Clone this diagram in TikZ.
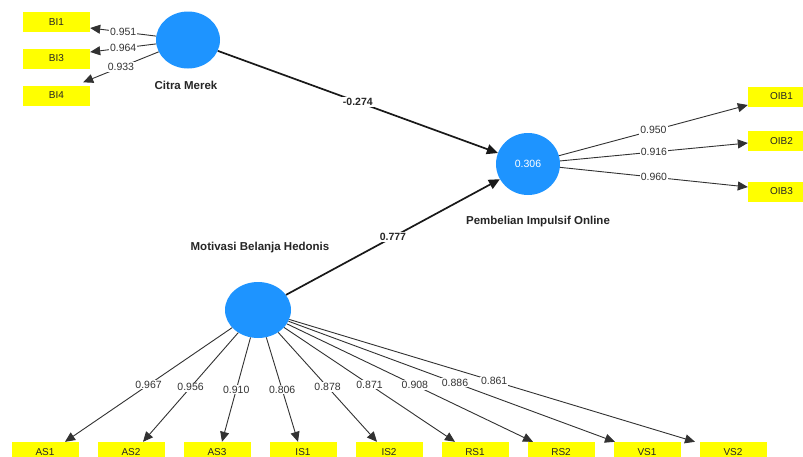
\documentclass[tikz,border=0pt]{standalone}
\usepackage{fontspec}
\setmainfont{Liberation Sans}
\usetikzlibrary{shapes.geometric,arrows.meta}
\definecolor{lvblue}{RGB}{30,148,255}
\definecolor{indyellow}{RGB}{255,255,0}
\definecolor{lgray}{RGB}{50,50,50}
\tikzset{
  latent/.style={ellipse,fill=lvblue,draw=none,minimum width=64pt,minimum height=57pt,inner sep=0pt},
  indbox/.style={rectangle,fill=indyellow,draw=none,minimum width=67pt,minimum height=20pt,inner sep=0pt,font=\fontsize{10}{12}\selectfont,text=black!85},
  lvname/.style={font=\bfseries\fontsize{11.5}{13}\selectfont,text=black!85},
  loadline/.style={draw=lgray,line width=0.9pt,-{Triangle[length=10pt,width=9pt]}},
  pathline/.style={draw=black!90,line width=1.7pt,-{Triangle[length=11pt,width=10pt]}},
  lbl/.style={fill=white,inner sep=1pt,font=\fontsize{10.5}{12}\selectfont,text=black!80},
  plbl/.style={fill=white,inner sep=1pt,font=\bfseries\fontsize{10.5}{12}\selectfont,text=black!85}
}
\begin{document}
\begin{tikzpicture}[x=1pt,y=-1pt]
\clip (0,0) rectangle (803,456);
\fill[white] (0,0) rectangle (803,456);
% latent variables
\node[latent] (cm) at (188,40) {};
\node[latent,minimum width=64pt,minimum height=62pt] (pio) at (528,164) {\textcolor{white}{\fontsize{10.5}{12}\selectfont 0.306}};
\node[latent,minimum width=66pt,minimum height=56pt] (mbh) at (258,310) {};
\node[lvname] (cmlab) at (186,85) {Citra Merek};
\node[lvname] (piolab) at (538,222) {Pembelian Impulsif Online};
\node[lvname] (mbhlab) at (260,248) {Motivasi Belanja Hedonis};
% indicators
\node[indbox] (bi1) at (56.5,22) {BI1};
\node[indbox] (bi3) at (56.5,58.5) {BI3};
\node[indbox] (bi4) at (56.5,95.5) {BI4};
\node[indbox] (oib1) at (781.5,96.5) {OIB1};
\node[indbox] (oib2) at (781.5,141) {OIB2};
\node[indbox] (oib3) at (781.5,191.5) {OIB3};
\node[indbox] (as1) at (45,452) {AS1};
\node[indbox] (as2) at (131,452) {AS2};
\node[indbox] (as3) at (217,452) {AS3};
\node[indbox] (is1) at (303,452) {IS1};
\node[indbox] (is2) at (389,452) {IS2};
\node[indbox] (rs1) at (475,452) {RS1};
\node[indbox] (rs2) at (561,452) {RS2};
\node[indbox] (vs1) at (647,452) {VS1};
\node[indbox] (vs2) at (733,452) {VS2};
% structural paths
\draw[pathline] (cm) -- node[plbl] {-0.274} (pio);
\draw[pathline] (mbh) -- node[plbl] {0.777} (pio);
% Citra Merek loadings
\draw[loadline] (cm) -- node[lbl,pos=0.5] {0.951} ([yshift=-6pt]bi1.east);
\draw[loadline] (cm) -- node[lbl,pos=0.5] {0.964} ([yshift=6.5pt]bi3.east);
\draw[loadline] (cm) -- node[lbl,pos=0.5] {0.933} ([xshift=-7pt,yshift=3pt]bi4.north east);
% Pembelian loadings
\draw[loadline] (pio) -- node[lbl] {0.950} ([yshift=-8.5pt]oib1.west);
\draw[loadline] (pio) -- node[lbl] {0.916} ([yshift=-2pt]oib2.west);
\draw[loadline] (pio) -- node[lbl] {0.960} ([yshift=4.5pt]oib3.west);
% Motivasi loadings
\draw[loadline] (mbh) -- node[lbl] {0.967} ([xshift=20pt]as1.north);
\draw[loadline] (mbh) -- node[lbl] {0.956} ([xshift=12pt]as2.north);
\draw[loadline] (mbh) -- node[lbl] {0.910} ([xshift=5pt]as3.north);
\draw[loadline] (mbh) -- node[lbl] {0.806} ([xshift=-5pt]is1.north);
\draw[loadline] (mbh) -- node[lbl] {0.878} ([xshift=-12pt]is2.north);
\draw[loadline] (mbh) -- node[lbl] {0.871} ([xshift=-20pt]rs1.north);
\draw[loadline] (mbh) -- node[lbl,pos=0.52] {0.908} ([xshift=-28pt]rs2.north);
\draw[loadline] (mbh) -- node[lbl,pos=0.51] {0.886} ([xshift=-32pt]vs1.north);
\draw[loadline] (mbh) -- node[lbl,pos=0.505] {0.861} ([xshift=-38pt]vs2.north);
\end{tikzpicture}
\end{document}
